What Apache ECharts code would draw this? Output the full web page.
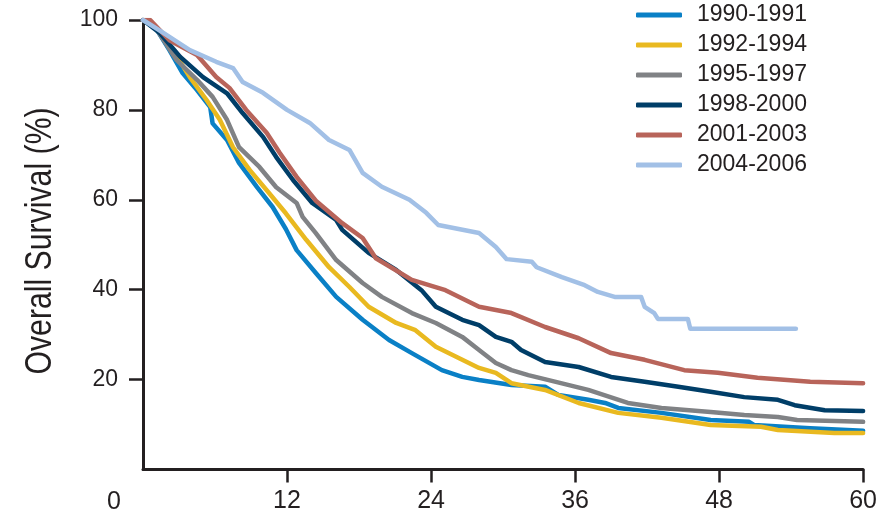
<!DOCTYPE html>
<html>
<head>
<meta charset="utf-8">
<script src="https://cdn.jsdelivr.net/npm/echarts@6/dist/echarts.min.js"></script>
<style>
  html, body { margin: 0; padding: 0; background: #fff; }
  #chart { width: 880px; height: 520px; }
</style>
</head>
<body>
<div id="chart"></div>
<script>
// months since diagnosis vs overall survival (%)
var cohorts = ['1990-1991', '1992-1994', '1995-1997', '1998-2000', '2001-2003', '2004-2006']
var colors = ['#0a80c6', '#e9b920', '#808285', '#003e68', '#b8645a', '#a2c0e6']

var s1990 = [[0,100],[1,98.5],[2.2,93.3],[3.3,88.2],[4.5,84.4],[5.6,80.6],[5.8,77],[7,73.3],[8,68.2],[9.5,62.8],[10.8,58.4],[11.9,53.5],[12.8,48.8],[14.4,43.7],[16.1,38.4],[18.3,33.3],[20.5,28.8],[22.4,25.9],[24.9,22.1],[26.6,20.6],[28,19.9],[30.7,18.8],[33.5,18.4],[34.6,16.6],[37.1,15.5],[38.5,14.8],[39.6,13.7],[43.2,12.6],[47.3,11],[50.5,10.6],[50.9,9.9],[55.6,9.2],[60,8.6]]
var s1992 = [[0,100],[1,98.5],[2.5,93.3],[3.9,87.3],[5.3,82.2],[6.4,77.8],[7.5,71.7],[8.9,66.6],[10.5,61.5],[11.9,57],[13.6,51.1],[15.5,45],[17.2,40.6],[18.8,36.2],[21.1,32.6],[22.7,31],[24.4,27.3],[26.6,24.4],[28,22.6],[29.4,21.5],[30.7,19.2],[33.5,17.7],[36.3,14.8],[39.6,12.6],[43.2,11.5],[47.3,9.9],[51.5,9.5],[52.9,8.8],[57.6,8.1],[60,8.1]]
var s1995 = [[0,100],[1,98.5],[2.8,91.1],[4.5,86.7],[5.8,82.9],[7,77.8],[8,71.7],[9.7,67.3],[11.1,62.8],[12.8,59.3],[13.3,56.2],[14.4,52.6],[16.1,46.6],[18.3,41.5],[19.9,38.4],[22.4,34.8],[24.4,32.6],[26.6,29.5],[28,26.6],[29.4,23.7],[30.7,22.1],[32.1,21],[34.4,19.5],[37.1,17.7],[40.4,14.8],[43.2,13.7],[47.3,12.8],[50.1,12.1],[52.9,11.7],[54.5,11],[60,10.6]]
var s1998 = [[0,100],[1.4,97.1],[3.1,91.8],[5,87.3],[7,83.7],[8.3,79.3],[10,74],[11.1,69.5],[12.5,64.4],[14.1,59.3],[16.1,55.5],[16.6,53.3],[18.8,48.2],[21.1,44.4],[23.2,39.9],[24.4,36.2],[26.6,33.3],[28,32.1],[29.4,29.5],[30.7,28.4],[31.5,26.6],[33.5,23.9],[36.3,22.8],[39,20.6],[41.8,19.5],[44.6,18.4],[47.3,17.3],[50.1,16.1],[52.9,15.5],[54.3,14.3],[56.8,13.2],[60,13]]
var s2001 = [[0,100],[0.6,100],[2.2,95.5],[4.5,92.2],[6.1,87.3],[7.2,84.9],[8.6,80],[10.3,74.9],[11.4,70.4],[12.8,65.1],[14.4,59.8],[16.6,54.8],[18.3,51.5],[19.4,47],[22.4,42.2],[25.2,39.9],[28,36.2],[30.7,34.8],[33.5,31.7],[36.3,29.2],[39,25.9],[41.8,24.4],[45.1,22.1],[47.9,21.5],[51.2,20.4],[55.6,19.5],[60,19.2]]
var s2004 = [[0,100],[1.6,97.3],[3.9,93.3],[6.1,90.7],[7.5,89.3],[8.3,86.2],[10,83.8],[12,80],[13.9,77.1],[15.5,73.3],[17.2,71.1],[18.3,66],[19.9,62.9],[22.2,60],[23.6,57.1],[24.6,54.4],[28,52.6],[29.4,49.5],[30.3,46.8],[32.4,46.2],[32.8,45],[34.9,42.8],[36.8,41],[37.9,39.5],[39.3,38.4],[41.5,38.4],[41.8,36.2],[42.6,34.8],[42.9,33.5],[45.4,33.5],[45.6,31.3],[54.4,31.3]]

var curves = [s1990, s1992, s1995, s1998, s2001, s2004]
// the shared origin "0" is drawn once, bottom-left; axes carry the rest
var xTicks = [12, 24, 36, 48, 60]
var yTicks = [20, 40, 60, 80, 100]

var ink = '#231f20'
var sans = '"Liberation Sans", Arial, sans-serif'

var series = cohorts.map(function (name, i) {
  return {
    name: name,
    type: 'line',
    data: curves[i],
    symbol: 'none',
    lineStyle: { color: colors[i], width: 4.5, cap: 'round', join: 'round' },
    itemStyle: { color: colors[i] }
  }
})

var chart = echarts.init(document.getElementById('chart'))
chart.setOption({
  animation: false,
  backgroundColor: '#fff',
  grid: { left: 143, right: 14, top: 20, bottom: 50.5, containLabel: false },
  legend: {
    orient: 'vertical',
    left: 636,
    top: 3,
    padding: 0,
    icon: 'roundRect',
    itemWidth: 46,
    itemHeight: 5,
    itemGap: 6,
    textStyle: {
      fontFamily: sans,
      fontSize: 23,
      color: ink,
      lineHeight: 24,
      padding: [0, 0, 0, 10]
    },
    data: cohorts
  },
  xAxis: {
    type: 'value',
    min: 0,
    max: 60,
    interval: 12,
    splitLine: { show: false },
    axisLine: { onZero: false, lineStyle: { color: ink, width: 3 } },
    axisTick: { length: 13, customValues: xTicks, lineStyle: { color: ink, width: 2.5 } },
    axisLabel: {
      margin: 19,
      customValues: xTicks,
      fontFamily: sans,
      fontSize: 25,
      color: ink
    }
  },
  yAxis: {
    type: 'value',
    min: 0,
    max: 100,
    interval: 20,
    splitLine: { show: false },
    axisLine: { show: true, lineStyle: { color: ink, width: 3 } },
    axisTick: { show: true, length: 14, customValues: yTicks, lineStyle: { color: ink, width: 2.5 } },
    axisLabel: {
      margin: 25,
      customValues: yTicks,
      fontFamily: sans,
      fontSize: 23,
      color: ink
    }
  },
  graphic: [{
    type: 'text',
    left: 107,
    top: 490,
    style: { text: '0', font: '25px ' + sans, fill: ink }
  }, {
    // axis title, condensed like the original typeface
    type: 'text',
    x: 41,
    y: 241,
    rotation: Math.PI / 2,
    scaleX: 0.84,
    style: {
      text: 'Overall Survival (%)',
      font: '36px ' + sans,
      fill: ink,
      align: 'center',
      verticalAlign: 'middle'
    }
  }],
  series: series
})
</script>
</body>
</html>
